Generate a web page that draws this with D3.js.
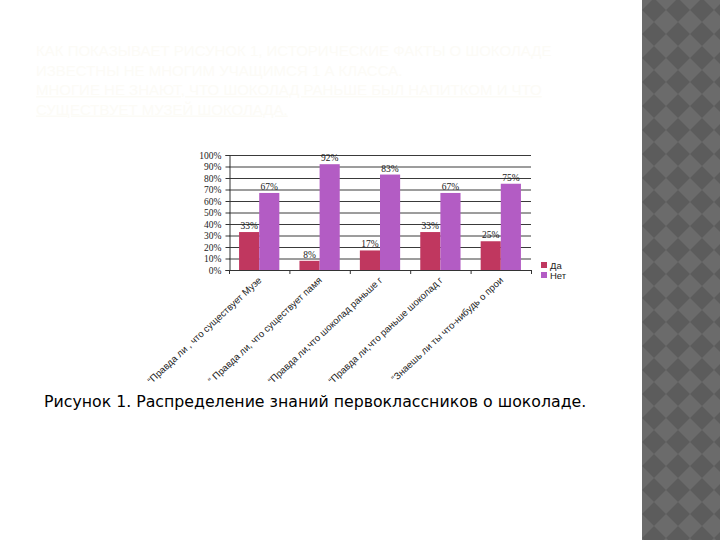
<!DOCTYPE html>
<html><head><meta charset="utf-8">
<script src="https://cdn.jsdelivr.net/npm/d3@7"></script>
<style>html,body{margin:0;padding:0;background:#fff;}svg{display:block;}</style>
</head><body>
<script>
const categories = [
  "“Правда ли , что существует Музе",
  "“ Правда ли, что существует памя",
  "“Правда ли,что шоколад раньше г",
  "“Правда ли,что раньше шоколад г",
  "“Знаешь ли ты что-нибудь о прои"
];
const seriesNames = ["Да", "Нет"];
const daValues = [33, 8, 17, 33, 25];
const netValues = [67, 92, 83, 67, 75];
const yTicks = [0,10,20,30,40,50,60,70,80,90,100];
const caption = "Рисунок 1. Распределение знаний первоклассников о шоколаде.";
const headerLines = [
  "КАК ПОКАЗЫВАЕТ РИСУНОК 1, ИСТОРИЧЕСКИЕ ФАКТЫ О ШОКОЛАДЕ",
  "ИЗВЕСТНЫ НЕ МНОГИМ УЧАЩИМСЯ 1 А КЛАССА.",
  "МНОГИЕ НЕ ЗНАЮТ, ЧТО ШОКОЛАД РАНЬШЕ БЫЛ НАПИТКОМ И ЧТО",
  "СУЩЕСТВУЕТ МУЗЕЙ ШОКОЛАДА."
];
const colors = ["#c0375f", "#b35cc4"];

const W = 720, H = 540;
const svg = d3.select("body").append("svg").attr("width", W).attr("height", H);

// patterned strip on the right
const defs = svg.append("defs");
const pat = defs.append("pattern").attr("id","dia").attr("patternUnits","userSpaceOnUse")
  .attr("width",24).attr("height",24).attr("x",642).attr("y",-2);
pat.append("rect").attr("width",24).attr("height",24).attr("fill","#6b6b6b");
pat.append("path").attr("d","M12,0 L24,12 L12,24 L0,12 Z").attr("fill","#5c5c5c");
svg.append("rect").attr("x",642).attr("y",0).attr("width",78).attr("height",H).attr("fill","url(#dia)");

// faint header
const hdr = svg.append("g");
headerLines.forEach((t,i)=>{
  hdr.append("text").attr("x",36).attr("y",56+i*19.5)
    .attr("font-family","Liberation Sans Narrow, Arial Narrow, Liberation Sans, sans-serif")
    .attr("font-size",15).attr("fill","#fcfbf6")
    .attr("text-decoration", i>=2 ? "underline" : null)
    .text(t);
});

// chart
const x0 = 229, x1 = 531, yTop = 155, yBot = 270;
const x = d3.scaleBand().domain(d3.range(categories.length)).range([x0, x1]);
const xs = d3.scaleBand().domain(seriesNames).range([0, x.bandwidth()]).paddingOuter(0.5).paddingInner(0);
const y = d3.scaleLinear().domain([0,100]).range([yBot, yTop]);

// gridlines
svg.append("g").selectAll("line").data(yTicks).join("line")
  .attr("x1",x0).attr("x2",x1).attr("y1",d=>y(d)+0.5).attr("y2",d=>y(d)+0.5)
  .attr("stroke","#3a3a3a").attr("stroke-width",1);

// y axis
const ya = svg.append("g").attr("transform",`translate(${x0+0.5},0)`)
  .call(d3.axisLeft(y).tickValues(yTicks).tickSize(4).tickFormat(d=>d+"%"));
ya.select(".domain").attr("stroke","#333");
ya.selectAll("line").attr("stroke","#333");
ya.selectAll("text").attr("font-family","Liberation Serif, Times New Roman, serif").attr("font-size",9.5).attr("fill","#222").attr("dx",-1);

// bars
const data = [daValues, netValues];
const gBars = svg.append("g");
seriesNames.forEach((s,si)=>{
  gBars.selectAll(".b"+si).data(data[si]).join("rect")
    .attr("x",(d,i)=>x(i)+xs(s)).attr("width",xs.bandwidth())
    .attr("y",d=>y(d)).attr("height",d=>yBot-y(d)).attr("fill",colors[si]);
  gBars.selectAll(".l"+si).data(data[si]).join("text")
    .attr("x",(d,i)=>x(i)+xs(s)+xs.bandwidth()/2).attr("y",d=>y(d)-3)
    .attr("text-anchor","middle").attr("font-family","Liberation Serif, Times New Roman, serif")
    .attr("font-size",9.5).attr("fill","#222").text(d=>d+"%");
});

// x axis
svg.append("line").attr("x1",x0).attr("x2",x1).attr("y1",yBot+0.5).attr("y2",yBot+0.5).attr("stroke","#333");
svg.append("g").selectAll("line").data(d3.range(categories.length+1)).join("line")
  .attr("x1",i=>x0+i*x.step()+0.5).attr("x2",i=>x0+i*x.step()+0.5)
  .attr("y1",yBot).attr("y2",yBot+4).attr("stroke","#333");

svg.append("g").selectAll("text").data(categories).join("text")
  .attr("transform",(d,i)=>`translate(${x(i)+x.bandwidth()/2+3},${yBot+11}) rotate(-43)`)
  .attr("text-anchor","end").attr("font-family","Liberation Sans, Arial, sans-serif")
  .attr("font-size",9.6).attr("fill","#222").text(d=>d);

// legend
const lg = svg.append("g").attr("transform","translate(541,262)");
seriesNames.forEach((s,i)=>{
  lg.append("rect").attr("x",0).attr("y",i*10).attr("width",6).attr("height",6).attr("fill",colors[i]);
  lg.append("text").attr("x",9).attr("y",i*10+6.5).attr("font-family","Liberation Sans, Arial, sans-serif")
    .attr("font-size",9.5).attr("fill","#222").text(s);
});

// caption
svg.append("text").attr("x",44).attr("y",407).attr("font-family","DejaVu Sans, Verdana, sans-serif")
  .attr("font-size",15.75).attr("fill","#000").text(caption);
</script>
</body></html>
